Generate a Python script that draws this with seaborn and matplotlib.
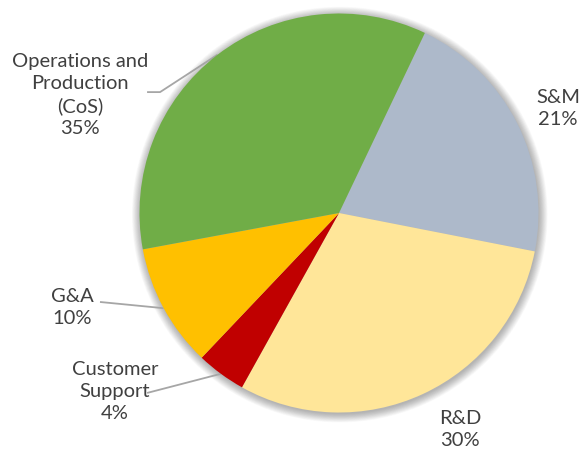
import numpy as np
import matplotlib
matplotlib.use("Agg")
import matplotlib.pyplot as plt
from matplotlib.patches import Circle
import seaborn as sns

# Cost breakdown by function (percent of total)
categories = ["S&M", "R&D", "Customer\nSupport", "G&A", "Operations and\nProduction\n(CoS)"]
shares = [21, 30, 4, 10, 35]
colors = ["#ADB9CA", "#FFE699", "#C00000", "#FFC000", "#70AD47"]

sns.set_theme(style="white")
plt.rcParams["font.family"] = ["Lato", "DejaVu Sans"]

W, H = 588, 450
fig = plt.figure(figsize=(W / 100, H / 100), dpi=100)
ax = fig.add_axes([0, 0, 1, 1])

# pie geometry in pixels
cx, cy, R = 339, 213, 199.5

# soft drop shadow under the pie
for k in range(16):
    ax.add_patch(Circle((0.004, -0.008), 1.0 + k * 0.0028, color="black",
                        alpha=0.018, lw=0, zorder=0))

wedges, _ = ax.pie(shares, colors=colors, startangle=64.5, counterclock=False,
                   radius=1.0, wedgeprops=dict(linewidth=0))
for w in wedges:
    w.set_zorder(2)

ax.set_xlim(-cx / R, (W - cx) / R)
ax.set_ylim(-(H - cy) / R, cy / R)
ax.set_aspect("equal")
ax.axis("off")

# label anchor positions (data units, radius = 1)
label_pos = {
    "S&M": (1.098, 0.526),
    "R&D": (0.607, -1.083),
    "Customer\nSupport": (-1.123, -0.897),
    "G&A": (-1.338, -0.476),
    "Operations and\nProduction\n(CoS)": (-1.298, 0.591),
}
# leader paths from label side toward the wedge
leaders = {
    "Customer\nSupport": [(-0.962, -0.902)],
    "G&A": [(-1.198, -0.446)],
    "Operations and\nProduction\n(CoS)": [(-0.962, 0.606), (-0.897, 0.606)],
}

text_color = "#404040"
for w, cat, val in zip(wedges, categories, shares):
    mid = np.deg2rad((w.theta1 + w.theta2) / 2)
    ex, ey = np.cos(mid), np.sin(mid)
    if cat in leaders:
        pts = leaders[cat] + [(ex, ey)]
        xs, ys = zip(*pts)
        ax.plot(xs, ys, color="#A6A6A6", lw=1.3, zorder=1,
                solid_capstyle="butt")
    tx, ty = label_pos[cat]
    ax.text(tx, ty, f"{cat}\n{val}%", ha="center", va="center",
            fontsize=14.5, color=text_color, linespacing=1.36, zorder=3)

fig.savefig("out.png", dpi=100, facecolor="white")
